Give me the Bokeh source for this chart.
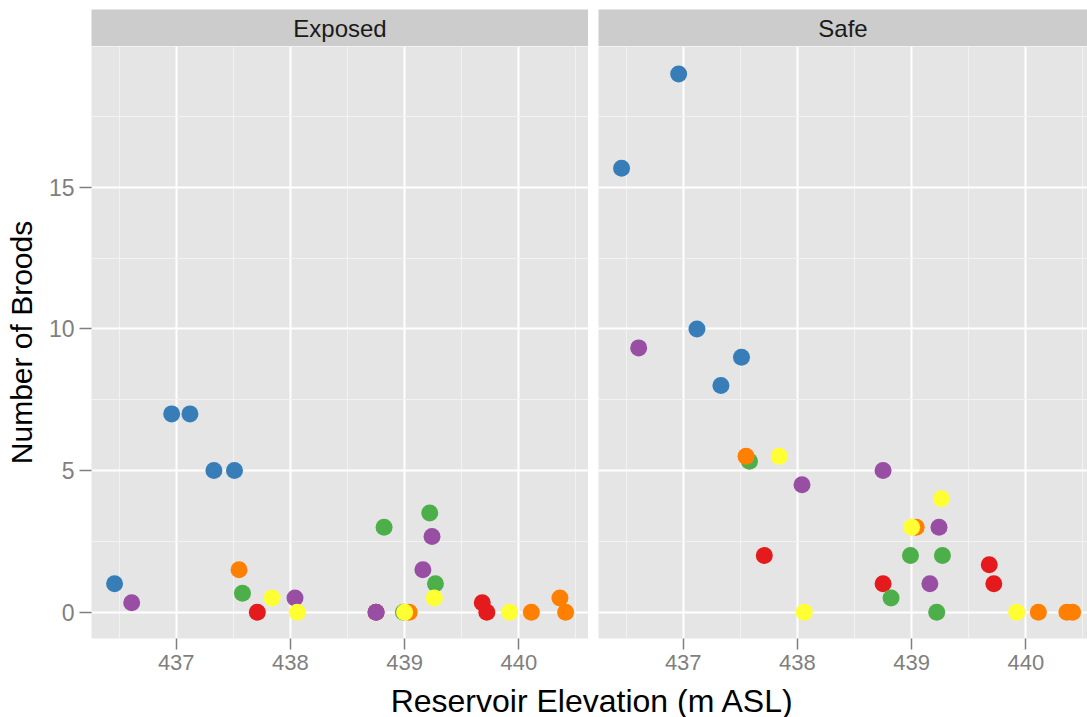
from bokeh.plotting import figure
from bokeh.layouts import column, row
from bokeh.models import Label, Range1d, SingleIntervalTicker, FixedTicker
from bokeh.embed import file_html
from bokeh.resources import INLINE

# ---- data ----
red_x = [437.71, 438.75, 439.68, 439.72]
red_exposed = [0, 0, 0.33, 0]
red_safe = [2, 1, 1.67, 1]

blue_x = [436.46, 436.96, 437.12, 437.33, 437.51]
blue_exposed = [1, 7, 7, 5, 5]
blue_safe = [15.67, 19, 10, 8, 9]

green_x = [437.58, 438.82, 438.99, 439.22, 439.27]
green_exposed = [0.67, 3, 0, 3.5, 1]
green_safe = [5.33, 0.5, 2, 0, 2]

purple_x = [436.61, 438.04, 438.75, 439.16, 439.24]
purple_exposed = [0.33, 0.5, 0, 1.5, 2.67]
purple_safe = [9.33, 4.5, 5, 1, 3]

orange_x = [437.55, 439.04, 440.11, 440.36, 440.41]
orange_exposed = [1.5, 0, 0, 0.5, 0]
orange_safe = [5.5, 3, 0, 0, 0]

yellow_x = [437.84, 438.06, 439.0, 439.26, 439.92]
yellow_exposed = [0.5, 0, 0, 0.5, 0]
yellow_safe = [5.5, 0, 3, 4, 0]

panels = ["Exposed", "Safe"]
y_ticks = [0, 5, 10, 15]
x_title = "Reservoir Elevation (m ASL)"
y_title = "Number of Broods"

series = [
    ("#E41A1C", red_x, red_exposed, red_safe),
    ("#377EB8", blue_x, blue_exposed, blue_safe),
    ("#4DAF4A", green_x, green_exposed, green_safe),
    ("#984EA3", purple_x, purple_exposed, purple_safe),
    ("#FF7F00", orange_x, orange_exposed, orange_safe),
    ("#FFFF33", yellow_x, yellow_exposed, yellow_safe),
]

FONT = "Liberation Sans"
PANEL_BG = "#E5E5E5"
STRIP_BG = "#CCCCCC"
GREY = "#7F7F7F"
PX_PER_UNIT = 114.19
X0 = 436.258
Y_RANGE = (-0.93, 19.97)
PANEL_H = 634
BOTTOM_B = 42


def style_axis(a, tick_out, standoff, size):
    a.axis_line_color = None
    a.major_tick_line_color = GREY
    a.major_tick_line_width = 1.5
    a.major_tick_out = tick_out
    a.major_tick_in = 0
    a.minor_tick_line_color = None
    a.major_label_text_color = GREY
    a.major_label_text_font = FONT
    a.major_label_text_font_size = size
    a.major_label_standoff = standoff


def make_panel(width, border_left, frame_w, with_y, idx):
    x_end = X0 + frame_w / PX_PER_UNIT
    p = figure(width=width, height=PANEL_H,
               x_range=Range1d(X0, x_end), y_range=Range1d(*Y_RANGE),
               output_backend="svg", toolbar_location=None, title=None,
               min_border_left=border_left, min_border_right=0,
               min_border_top=0, min_border_bottom=BOTTOM_B,
               background_fill_color=PANEL_BG, border_fill_color="white",
               outline_line_color=None,
               y_axis_location="left" if with_y else None)
    xt = SingleIntervalTicker(interval=1, num_minor_ticks=2)
    yt = SingleIntervalTicker(interval=5, num_minor_ticks=2)
    p.xaxis.ticker = xt
    p.xgrid.ticker = xt
    p.ygrid.ticker = yt
    for g in (p.xgrid, p.ygrid):
        g.grid_line_color = "white"
        g.grid_line_width = 2
        g.minor_grid_line_color = "#F2F2F2"
        g.minor_grid_line_width = 1
    style_axis(p.xaxis[0], 11, 5, "22px")
    if with_y:
        p.yaxis.ticker = FixedTicker(ticks=y_ticks)
        ya = p.yaxis[0]
        style_axis(ya, 12, 5, "23px")
        ya.axis_label = y_title
        ya.axis_label_text_font = FONT
        ya.axis_label_text_font_size = "30px"
        ya.axis_label_text_font_style = "normal"
        ya.axis_label_text_color = "black"
        ya.axis_label_standoff = 8
    for color, xs, ye, ys in series:
        ys_use = ye if idx == 0 else ys
        p.scatter(xs, ys_use, size=17, fill_color=color, line_color=None)
    return p


def make_strip(width, border_left, text):
    s = figure(width=width, height=46, x_range=Range1d(0, 1), y_range=Range1d(0, 1),
               x_axis_type=None, y_axis_type=None, output_backend="svg", title=None,
               toolbar_location=None, min_border_left=border_left,
               min_border_right=0, min_border_top=9, min_border_bottom=0,
               background_fill_color=STRIP_BG, border_fill_color="white",
               outline_line_color=None)
    s.add_layout(Label(x=0.5, y=0.5, text=text, text_align="center",
                       text_baseline="middle", text_font=FONT,
                       text_font_size="24px", text_color="#1A1A1A"))
    return s


left = make_panel(588, 91, 497, True, 0)
right = make_panel(499, 10, 489, False, 1)
strip_l = make_strip(588, 91, panels[0])
strip_r = make_strip(499, 10, panels[1])

TITLE_H = 717 - 46 - PANEL_H
tfig = figure(width=1087, height=TITLE_H, x_range=Range1d(0, 1087), y_range=Range1d(0, TITLE_H),
              x_axis_type=None, y_axis_type=None, output_backend="svg", title=None,
              toolbar_location=None, min_border=0, outline_line_color=None,
              background_fill_color="white", border_fill_color="white")
tfig.add_layout(Label(x=592, y=17, text=x_title, text_align="center",
                      text_baseline="middle", text_font=FONT,
                      text_font_size="32px", text_color="black"))

layout = column(row(strip_l, strip_r), row(left, right), tfig)

open("out.html", "w").write(file_html(layout, INLINE))
